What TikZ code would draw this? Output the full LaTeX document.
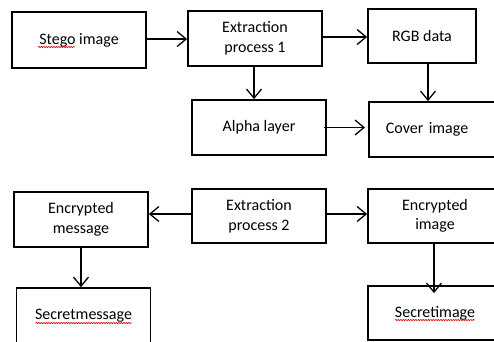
\documentclass[tikz,border=0pt]{standalone}
\usepackage{fontspec}
\setmainfont{Carlito}
\usetikzlibrary{arrows.meta,decorations.pathmorphing,calc}
\begin{document}
\begin{tikzpicture}[x=1pt,y=-1pt,
  box/.style={draw=black, line width=1.8pt, rectangle, minimum width=134pt, minimum height=55pt,
    inner sep=2pt, align=center, font=\fontsize{16}{19.5}\selectfont},
  arr/.style={line width=1.3pt, -{Straight Barb[length=9pt,width=15pt,line width=1.3pt]}},
  squig/.style={draw=red!85!black, line width=0.6pt, decorate,
    decoration={snake, amplitude=0.6pt, segment length=2.5pt}}]
\useasboundingbox (0,0) rectangle (494,341);
\clip (0,0) rectangle (494,341);
\fill[white] (0,0) rectangle (494,341);

% top row
\node[box, minimum height=56pt] (stego) at (79,40) {Stego image};
\node[box] (ex1) at (255,38.5) {Extraction\\process 1};
\node[box, minimum width=108pt, minimum height=54pt] (rgb) at (422,36) {RGB data};
\node[box] (alpha) at (259,127.5) {Alpha layer};
\node[box, anchor=west, text width=100pt, inner xsep=17pt, align=left] (cover) at (368,129.5) {Cover image};

% bottom rows
\node[box] (emsg) at (81,219.5) {Encrypted\\message};
\node[box, minimum height=54pt] (ex2) at (259,216) {Extraction\\process 2};
\node[box, minimum height=54pt] (eimg) at (435,216) {Encrypted\\image};
\node[box] (smsg) at (83.5,315.5) {Secretmessage};
\node[box, minimum height=54pt] (simg) at (435,313) {Secretimage};

% connectors
\draw[arr] ([yshift=1pt]stego.east) -- ([yshift=1pt]stego.east -| ex1.west);
\draw[arr] ([yshift=1.5pt]ex1.east) -- ([yshift=1.5pt]ex1.east -| rgb.west);
\draw[arr] ([xshift=-1pt]ex1.south) -- ([xshift=-1pt]ex1.south |- alpha.north);
\draw[arr] ([xshift=6pt]rgb.south) -- ([xshift=6pt]rgb.south |- cover.north);
\draw[arr] ([xshift=-3pt]alpha.east) -- ([xshift=-3pt]alpha.east -| cover.west);
\draw[arr] ([yshift=2pt]ex2.west) -- ([yshift=2pt]ex2.west -| emsg.east);
\draw[arr] ([yshift=2pt]ex2.east) -- ([yshift=2pt]ex2.east -| eimg.west);
\draw[arr] (emsg.south) -- (emsg.south |- smsg.north);
\draw[arr] ([xshift=-1pt]eimg.south) -- ([xshift=-1pt,yshift=-8pt]eimg.south |- simg.north);

% spell-check underlines
\draw[squig] ($(stego.center)+(-41,7)$) -- ($(stego.center)+(-4,7)$);
\draw[squig] ($(smsg.center)+(-48,7.5)$) -- ($(smsg.center)+(48,7.5)$);
\draw[squig] ($(simg.center)+(-40,7)$) -- ($(simg.center)+(40,7)$);
\end{tikzpicture}
\end{document}
